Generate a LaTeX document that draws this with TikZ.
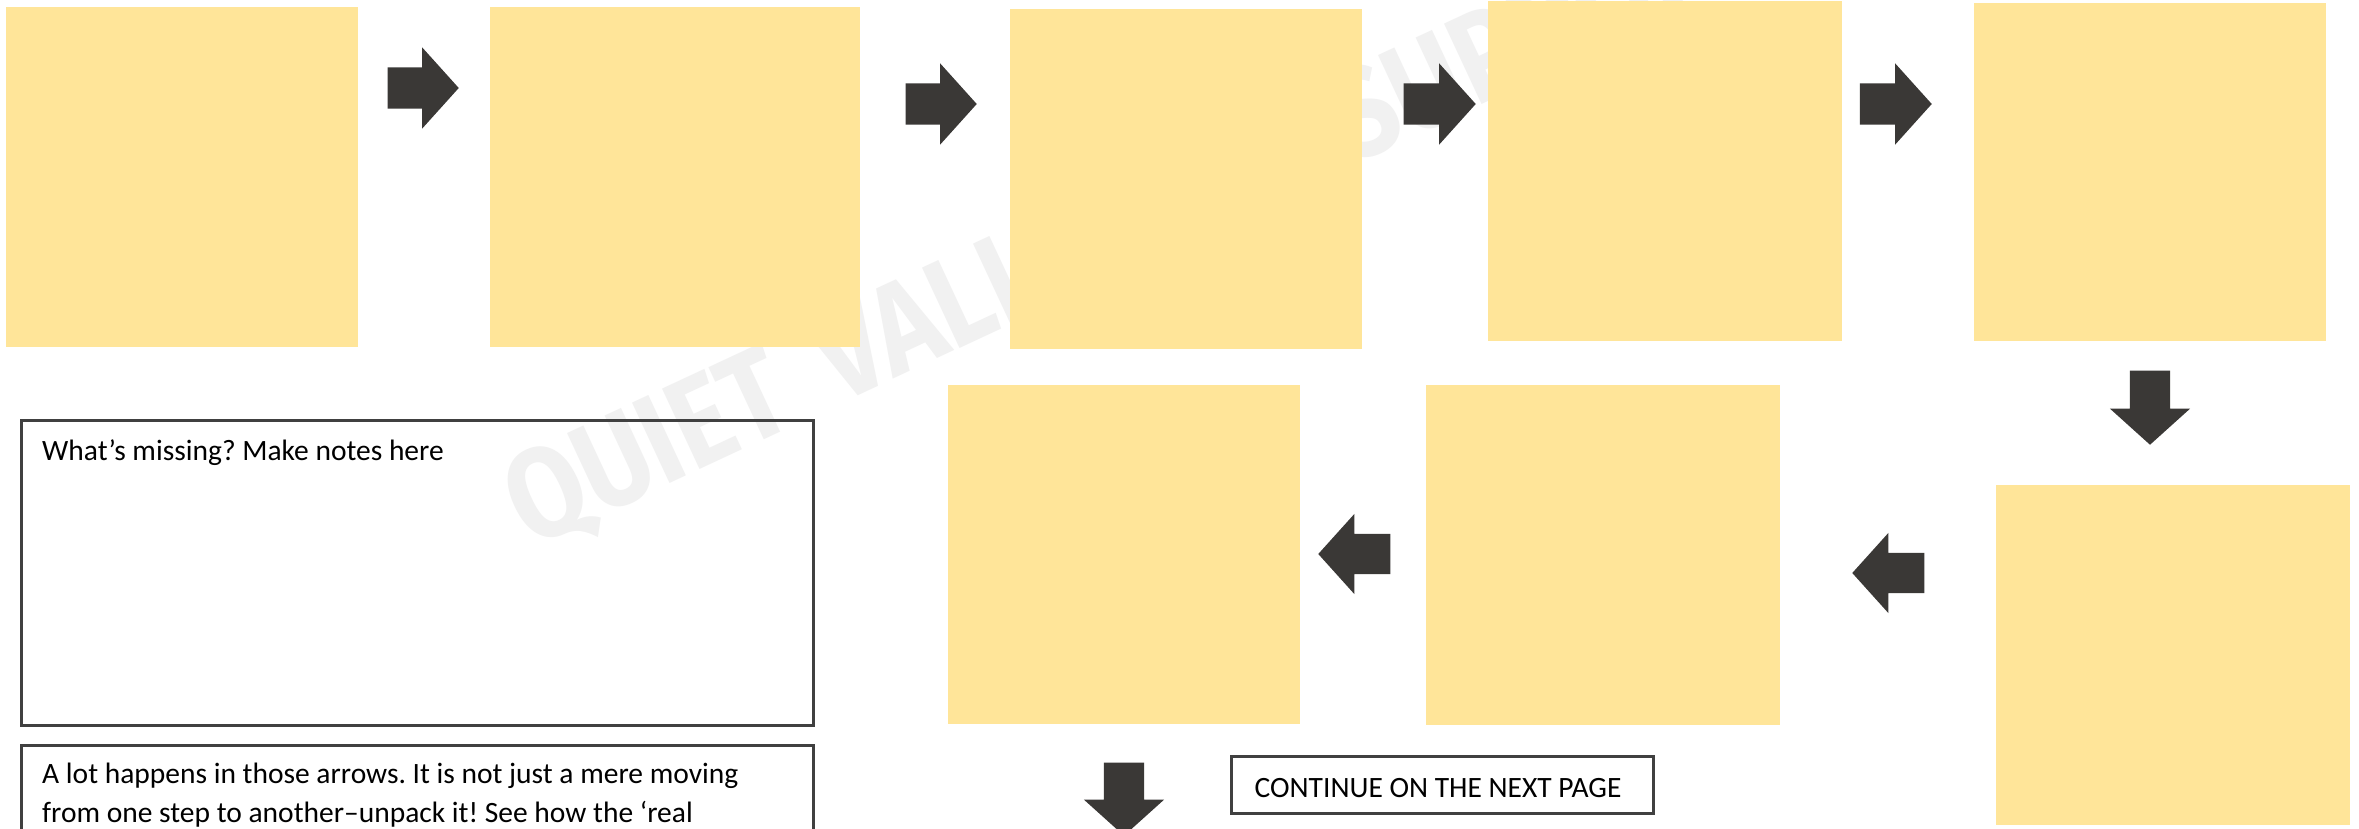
\documentclass[tikz,border=0pt]{standalone}
\usepackage{fontspec}
\setmainfont{Carlito}
\newfontfamily\wmfont[FakeStretch=0.86]{Fira Sans}
\usetikzlibrary{shapes.arrows}
\definecolor{sticky}{HTML}{FFE599}
\definecolor{arrowgray}{HTML}{3A3836}
\definecolor{linegray}{HTML}{404040}
\definecolor{wmgray}{HTML}{F1F1F1}
\tikzset{
  note/.style={fill=sticky, draw=none, inner sep=0pt, minimum height=340pt},
  blockarrow/.style={single arrow, fill=arrowgray, draw=none, inner xsep=0pt,
    inner ysep=20.5pt, single arrow head extend=20pt, single arrow tip angle=96,
    single arrow head indent=0pt, minimum height=72pt, anchor=tip},
  downarrow/.style={blockarrow, shape border rotate=270, inner xsep=20pt, inner ysep=0pt},
  leftarrow/.style={blockarrow, shape border rotate=180, inner ysep=20pt},
  framebox/.style={draw=linegray, line width=3pt, fill=none, inner sep=0pt},
  bodytext/.style={inner sep=0pt, anchor=base west, text=black,
    font=\fontsize{29.5}{35}\selectfont\frenchspacing},
  watermark/.style={inner sep=0pt, anchor=base west, text=wmgray, rotate=25,
    font=\wmfont\bfseries\fontsize{128}{128}\selectfont}
}
\begin{document}
\begin{tikzpicture}[x=1pt, y=-1pt]
\useasboundingbox (0,0) rectangle (2359,829);
\clip (0,0) rectangle (2359,829);
\fill[white] (0,0) rectangle (2359,829);

% watermark
\node[watermark] (wm) at (530,549) {QUIET\hspace{18pt} VALLEY\hspace{180pt} SUPPORT};

% sticky notes
\node[note, minimum width=352pt] (s1) at (182,177) {};
\node[note, minimum width=370pt] (s2) at (675,177) {};
\node[note, minimum width=352pt] (s3) at (1186,179) {};
\node[note, minimum width=354pt] (s4) at (1665,171) {};
\node[note, minimum width=352pt, minimum height=338pt] (s5) at (2150,172) {};
\node[note, minimum width=354pt] (s6) at (2173,655) {};
\node[note, minimum width=354pt] (s7) at (1603,555) {};
\node[note, minimum width=352pt, minimum height=339pt] (s8) at (1124,554.5) {};

% block arrows
\node[blockarrow, minimum height=71pt] (a1) at (459,88) {};
\node[blockarrow, minimum height=71pt] (a2) at (977,104) {};
\node[blockarrow] (a3) at (1476,104) {};
\node[blockarrow] (a4) at (1932,104) {};
\node[downarrow, minimum height=74pt] (a5) at (2150,445) {};
\node[leftarrow] (a6) at (1852,573) {};
\node[leftarrow] (a7) at (1318,554) {};
\node[downarrow, minimum height=73pt] (a8) at (1124,836) {};

% text frames
\node[framebox, minimum width=792pt, minimum height=305pt] (notes) at (417,572.5) {};
\node[framebox, minimum width=792pt, minimum height=305pt] (unpack) at (417,897.5) {};
\node[framebox, minimum width=422pt, minimum height=57pt] (cont) at (1442,784.5) {};

% texts
\node[bodytext] (notestxt) at (42,460) {What’s missing? Make notes here};
\node[bodytext] (unpack1) at (42,783) {A lot happens in those arrows. It is not just a mere moving};
\node[bodytext] (unpack2) at (42,822) {from one step to another–unpack it! See how the ‘real};
\node[bodytext, anchor=base] (conttxt) at (1438,797) {CONTINUE ON THE NEXT PAGE};
\end{tikzpicture}
\end{document}
